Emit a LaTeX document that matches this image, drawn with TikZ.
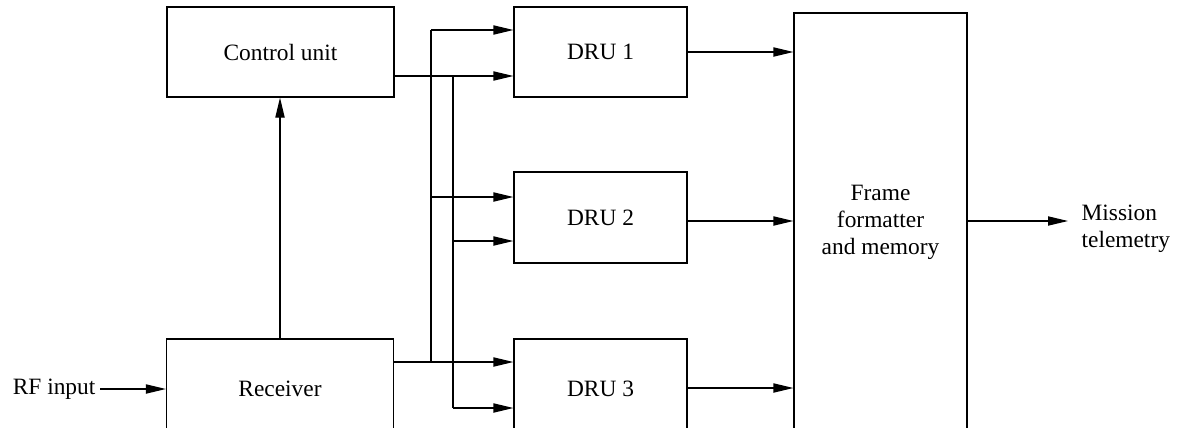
\documentclass[tikz,border=0pt]{standalone}
\usepackage{fontspec}
\setmainfont{Liberation Serif}
\usetikzlibrary{arrows.meta,calc}

\begin{document}
\begin{tikzpicture}[x=0.5pt, y=-0.5pt, line width=0.6pt,
    font=\fontsize{11.7}{13.5}\selectfont,
    blk/.style={rectangle, draw, line width=0.6pt, inner sep=0pt, align=center},
    arr/.style={-{Triangle[length=10pt,width=4.6pt]}}]

    \clip (0,0) rectangle (1178,428);

    \node[blk, minimum width=113.5pt, minimum height=45pt] (ctrl) at (280.5,52) {Control unit};
    \node[blk, minimum width=113.5pt, minimum height=50pt] (rx) at (280,389) {Receiver};
    \node[blk, minimum width=86.5pt, minimum height=45pt] (dru1) at (600.5,52) {DRU 1};
    \node[blk, minimum width=86.5pt, minimum height=45.5pt] (dru2) at (600.5,217.5) {DRU 2};
    \node[blk, minimum width=86.5pt, minimum height=50pt] (dru3) at (600.5,389) {DRU 3};
    \node[blk, minimum width=86.5pt, minimum height=209.5pt] (frame) at (880.5,222.5) {Frame\\formatter\\and memory};
    \node[anchor=east, inner sep=2pt] (rf) at (100,389) {RF input};
    \node[anchor=west, inner sep=0pt, align=left] (tm) at (1081,229) {Mission\\telemetry};
    \coordinate (tmin) at (1068,221);

    % buses
    \coordinate (busA) at (431,30);
    \coordinate (busB) at (453,76);

    \draw[arr] (rf) -- (rx);
    \draw[arr] (rx.north) -- (rx.north |- ctrl.south);

    \draw[arr] (ctrl.east |- busB) -- (dru1.west |- busB);
    \draw (busB) -- (453,408);
    \draw[arr] (453,241) -- (dru2.west |- 0,241);
    \draw[arr] (453,408) -- (dru3.west |- 0,408);

    \draw[arr] (rx.east |- 0,362) -- (dru3.west |- 0,362);
    \draw (431,362) -- (busA);
    \draw[arr] (busA) -- (dru1.west |- busA);
    \draw[arr] (431,197) -- (dru2.west |- 0,197);

    \draw[arr] (dru1) -- (dru1 -| frame.west);
    \draw[arr] (dru2.east |- 0,221) -- (frame.west |- 0,221);
    \draw[arr] (dru3.east |- 0,388) -- (frame.west |- 0,388);
    \draw[arr] (frame.east |- tmin) -- (tmin);

\end{tikzpicture}
\end{document}
